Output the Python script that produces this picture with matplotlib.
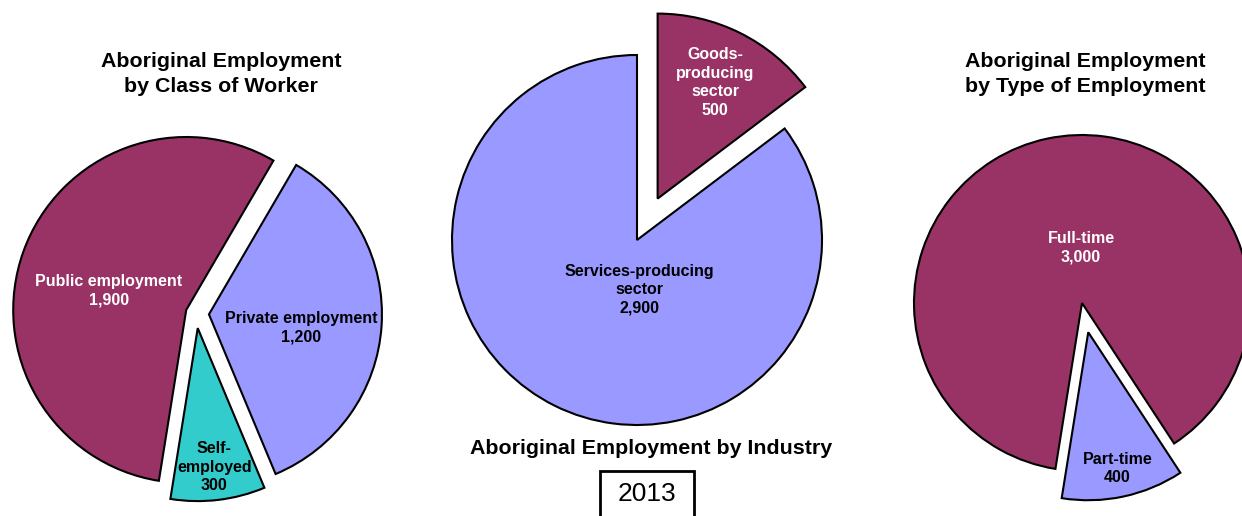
import numpy as np
import matplotlib.pyplot as plt
from matplotlib.patches import Rectangle

plt.rcParams['font.family'] = ['Liberation Sans', 'DejaVu Sans']

# Aboriginal employment, 2013
class_labels = ["Public employment", "Private employment", "Self-\nemployed"]
class_values = [1900, 1200, 300]

industry_labels = ["Goods-\nproducing\nsector", "Services-producing\nsector"]
industry_values = [500, 2900]

type_labels = ["Full-time", "Part-time"]
type_values = [3000, 400]

year = "2013"

MAROON = "#993366"
PERIWINKLE = "#9999FF"
TEAL = "#33CCCC"

W, H = 1242, 516

fig = plt.figure(figsize=(W / 100, H / 100), dpi=100)
ax = fig.add_axes([0, 0, 1, 1])


def draw_pie(labels, values, center, radius, start, explode, colors, text_colors, label_pos):
    # explode is given as a fraction of the radius
    wedges, _ = ax.pie(values, explode=[e * radius for e in explode], colors=colors,
                       startangle=start, counterclock=False, center=center, radius=radius,
                       wedgeprops=dict(edgecolor="black", linewidth=1.5))
    for w, name, val, tc, (ang, dist) in zip(wedges, labels, values, text_colors, label_pos):
        if ang is None:
            ang = (w.theta1 + w.theta2) / 2
        a = np.radians(ang)
        x = w.center[0] + dist * radius * np.cos(a)
        y = w.center[1] + dist * radius * np.sin(a)
        ax.text(x, y, f"{name}\n{val:,}", ha="center", va="center", color=tc,
                fontsize=11.5, fontweight="bold", linespacing=1.3)


# class of worker
draw_pie(class_labels, class_values, (196, H - 313.5), 173, 260.9,
         [0.06, 0.075, 0.085], [MAROON, PERIWINKLE, TEAL],
         ["white", "black", "black"],
         [(166, 0.46), (-8.5, 0.54), (None, 0.81)])

# industry
draw_pie(industry_labels, industry_values, (637, H - 240), 185, 90,
         [0.25, 0], [MAROON, PERIWINKLE], ["white", "black"],
         [(None, 0.70), (-87, 0.27)])

# type of employment
draw_pie(type_labels, type_values, (1082, H - 303), 168, 260.9,
         [0, 0.178], [MAROON, PERIWINKLE], ["white", "black"],
         [(91, 0.33), (None, 0.83)])

title_kw = dict(ha="center", va="center", fontsize=15.4, fontweight="bold", linespacing=1.35)
ax.text(221, H - 74, "Aboriginal Employment\nby Class of Worker", **title_kw)
ax.text(651, H - 448, "Aboriginal Employment by Industry", **title_kw)
ax.text(1085, H - 74, "Aboriginal Employment\nby Type of Employment", **title_kw)

ax.add_patch(Rectangle((600, -10), 94, H - 471 + 10, fill=False, edgecolor="black", linewidth=2))
ax.text(647, H - 494, year, ha="center", va="center", fontsize=19)

ax.set_xlim(0, W)
ax.set_ylim(0, H)
ax.set_aspect("auto")
ax.axis("off")

fig.savefig("out.png", dpi=100)
